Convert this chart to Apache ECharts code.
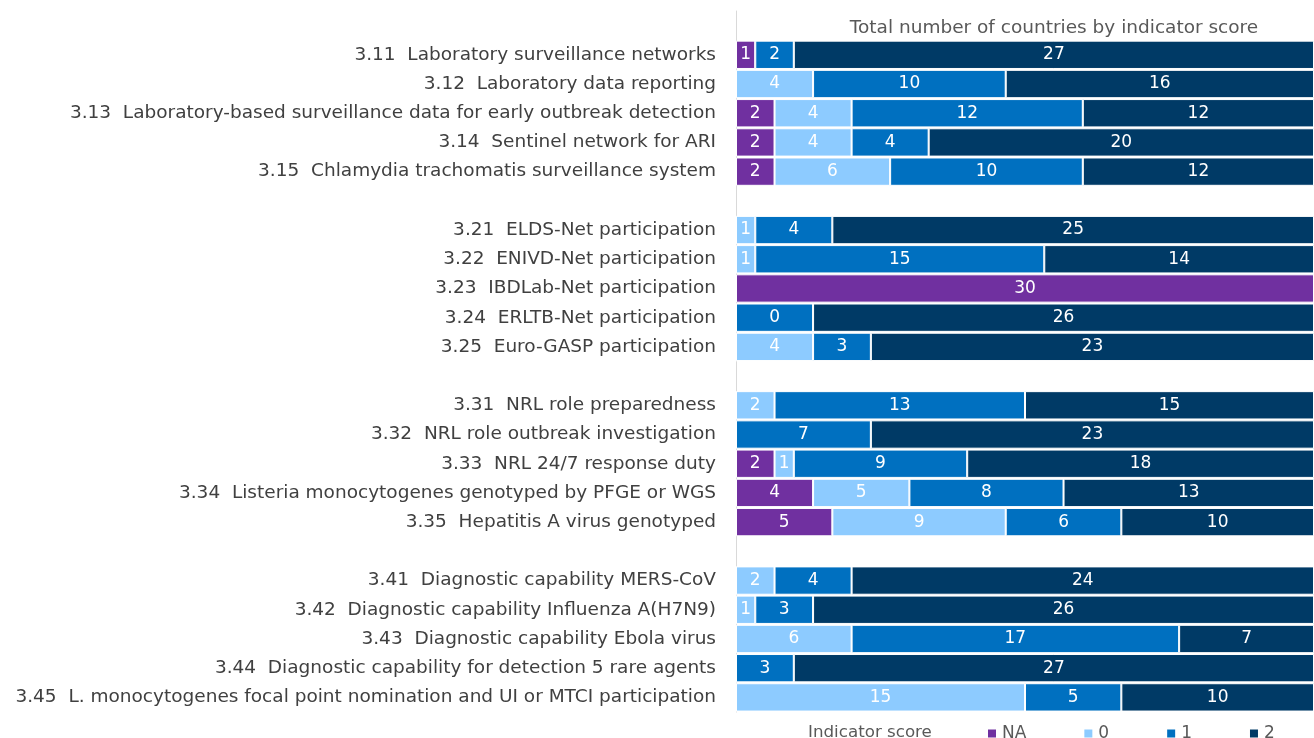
<!DOCTYPE html>
<html>
<head>
<meta charset="utf-8">
<script src="https://cdn.jsdelivr.net/npm/echarts@6/dist/echarts.min.js"></script>
<style>
  html, body { margin: 0; padding: 0; background: #fff; }
  #chart { width: 1314px; height: 738px; }
</style>
</head>
<body>
<div id="chart"></div>
<script>
// indicator names, top to bottom ('' = spacer row between groups)
var categories = [
  '',
  '3.11  Laboratory surveillance networks',
  '3.12  Laboratory data reporting',
  '3.13  Laboratory-based surveillance data for early outbreak detection',
  '3.14  Sentinel network for ARI',
  '3.15  Chlamydia trachomatis surveillance system',
  ' ',
  '3.21  ELDS-Net participation',
  '3.22  ENIVD-Net participation',
  '3.23  IBDLab-Net participation',
  '3.24  ERLTB-Net participation',
  '3.25  Euro-GASP participation',
  '  ',
  '3.31  NRL role preparedness',
  '3.32  NRL role outbreak investigation',
  '3.33  NRL 24/7 response duty',
  '3.34  Listeria monocytogenes genotyped by PFGE or WGS',
  '3.35  Hepatitis A virus genotyped',
  '   ',
  '3.41  Diagnostic capability MERS-CoV',
  '3.42  Diagnostic capability Influenza A(H7N9)',
  '3.43  Diagnostic capability Ebola virus',
  '3.44  Diagnostic capability for detection 5 rare agents',
  '3.45  L. monocytogenes focal point nomination and UI or MTCI participation'
];

// counts per score, null on spacer rows
var scoreNA = [null, 1, 0, 2, 2, 2, null, 0, 0, 30, 0, 0, null, 0, 0, 2, 4, 5, null, 0, 0, 0, 0, 0];
var score0  = [null, 0, 4, 4, 4, 6, null, 1, 1, 0, 0, 4, null, 2, 0, 1, 5, 9, null, 2, 1, 6, 0, 15];
var score1  = [null, 2, 10, 12, 4, 10, null, 4, 15, 0, 4, 3, null, 13, 7, 9, 8, 6, null, 4, 3, 17, 3, 5];
var score2  = [null, 27, 16, 12, 20, 12, null, 25, 14, 0, 26, 23, null, 15, 23, 18, 13, 10, null, 24, 26, 7, 27, 10];
// the source chart prints "0" on the 3.24 score-1 segment
var score1Labels = {10: '0'};

var names = ['NA', '0', '1', '2'];
var colors = ['#7030A0', '#8DCBFF', '#0070C0', '#003A66'];
var fontFamily = 'DejaVu Sans';

function makeSeries(name, values, color, overrides) {
  return {
    name: name,
    type: 'bar',
    stack: 'total',
    barCategoryGap: '3%',
    itemStyle: { color: color, borderColor: '#fff', borderWidth: 1 },
    label: {
      show: true,
      position: 'inside',
      color: '#fff',
      fontFamily: fontFamily,
      fontSize: 17,
      formatter: function (p) {
        if (overrides && overrides[p.dataIndex] !== undefined) return overrides[p.dataIndex];
        return p.value ? String(p.value) : '';
      }
    },
    data: values
  };
}

var myChart = echarts.init(document.getElementById('chart'));
var option = {
  animation: false,
  textStyle: { fontFamily: fontFamily },
  title: [
    {
      text: 'Total number of countries by indicator score',
      left: 1049, top: 14, textAlign: 'center',
      textStyle: { color: '#595959', fontSize: 18.5, fontWeight: 'normal', fontFamily: fontFamily }
    },
    {
      text: 'Indicator score',
      left: 803, top: 719,
      textStyle: { color: '#595959', fontSize: 16.7, fontWeight: 'normal', fontFamily: fontFamily }
    }
  ],
  legend: {
    data: names,
    left: 981, top: 720,
    icon: 'rect',
    itemWidth: 10, itemHeight: 10,
    itemGap: 56,
    textStyle: { color: '#595959', fontSize: 17, fontFamily: fontFamily }
  },
  grid: { left: 736, right: 0, top: 11, bottom: 26, containLabel: false },
  xAxis: {
    type: 'value', min: 0, max: 30, show: false
  },
  yAxis: {
    type: 'category',
    inverse: true,
    data: categories,
    axisLine: { show: true, lineStyle: { color: '#D9D9D9', width: 1 } },
    axisTick: { show: false },
    axisLabel: { color: '#404040', fontSize: 18.5, fontFamily: fontFamily, margin: 20, interval: 0 }
  },
  series: [
    makeSeries(names[0], scoreNA, colors[0]),
    makeSeries(names[1], score0, colors[1]),
    makeSeries(names[2], score1, colors[2], score1Labels),
    makeSeries(names[3], score2, colors[3])
  ]
};
myChart.setOption(option);
</script>
</body>
</html>
